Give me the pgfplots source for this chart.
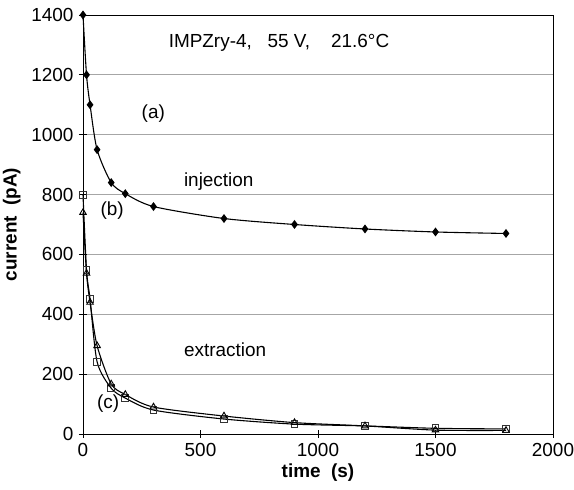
\documentclass[border=0pt]{standalone}
\usepackage{fontspec}
\setmainfont{Liberation Sans}
\usepackage{pgfplots}
\pgfplotsset{compat=1.18}
\begin{document}
\begin{tikzpicture}
\begin{axis}[
    scale only axis,
    width=470bp, height=419bp,
    xmin=0, xmax=2000, ymin=0, ymax=1400,
    xtick={0,500,...,2000}, ytick={0,200,...,1400},
    xtick pos=bottom, ytick pos=left,
    tick align=center,
    major tick length=8bp,
    ymajorgrids,
    grid style={gray!70, line width=0.8pt},
    axis line style={line width=0.9pt},
    tick style={black, line width=0.8pt},
    font=\fontsize{19}{22}\selectfont,
    /pgf/number format/assume math mode=true,
    /pgf/number format/set thousands separator={},
    xticklabel style={yshift=-2bp},
    yticklabel style={xshift=-2bp},
    xlabel={\textbf{time\ \ (s)}},
    ylabel={\textbf{current\ \ (pA)}},
    ylabel style={yshift=4bp},
    clip=false,
]
% (a) injection
\addplot[black, line width=1.1pt, smooth, tension=0.45, mark=diamond*,
    mark options={fill=black, scale=1.8}]
    coordinates {(0,1400) (15,1200) (30,1100) (60,950) (120,840) (180,803)
                 (300,760) (600,720) (900,700) (1200,685) (1500,675) (1800,670)};
% (b) extraction, squares
\addplot[black, line width=1.1pt, smooth, tension=0.45, mark=square,
    mark options={fill=white, draw=black!80, scale=1.7, line width=0.9pt}]
    coordinates {(0,800) (15,548) (30,451) (60,241) (120,153) (180,120)
                 (300,80) (600,50) (900,33) (1200,27) (1500,19) (1800,17)};
% (c) extraction, triangles
\addplot[black, line width=1.1pt, smooth, tension=0.45, mark=triangle,
    mark options={fill=white, draw=black, scale=1.9, line width=0.9pt}]
    coordinates {(0,740) (15,537) (30,440) (60,295) (120,167) (180,132)
                 (300,90) (600,60) (900,38) (1200,27) (1500,13) (1800,12)};
\node[anchor=west] at (axis cs:350,1306) {IMPZry-4,\ \ \ 55 V,\ \ \ \ 21.6\textdegree C};
\node[anchor=west] at (axis cs:235,1072) {(a)};
\node[anchor=west] at (axis cs:415,842) {injection};
\node[anchor=west] at (axis cs:60,745) {(b)};
\node[anchor=west] at (axis cs:415,280) {extraction};
\node[anchor=west] at (axis cs:45,103) {(c)};
\end{axis}
\pgfresetboundingbox
\path[use as bounding box] ([shift={(-83bp,-56bp)}]current axis.south west)
    rectangle ([shift={(21bp,15bp)}]current axis.north east);
\end{tikzpicture}
\end{document}
